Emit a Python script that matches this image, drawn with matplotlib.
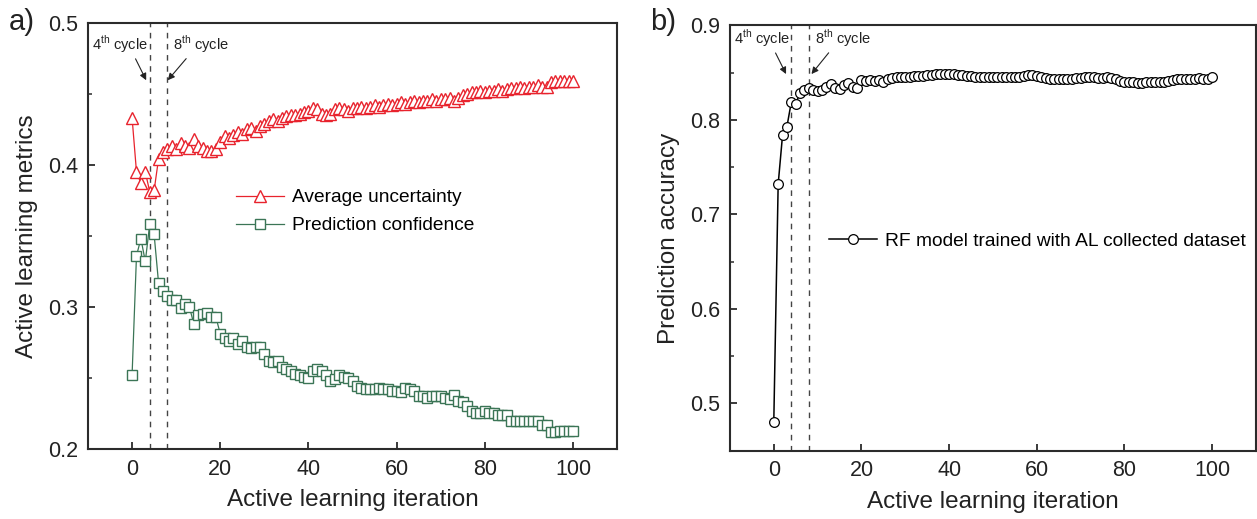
import numpy as np
import matplotlib
matplotlib.use("Agg")
import matplotlib.pyplot as plt

plt.rcParams['font.family'] = ['Liberation Sans', 'DejaVu Sans']
plt.rcParams['mathtext.fontset'] = 'custom'
plt.rcParams['mathtext.rm'] = 'Liberation Sans'

# ---- data ----
iteration = np.arange(0, 101)

avg_uncertainty = [
    0.433, 0.395, 0.387, 0.395, 0.381, 0.382, 0.404, 0.409, 0.411, 0.413,
    0.411, 0.415, 0.413, 0.412, 0.418, 0.413, 0.412, 0.410, 0.410, 0.411,
    0.416, 0.420, 0.419, 0.421, 0.423, 0.422, 0.425, 0.426, 0.424, 0.427,
    0.429, 0.431, 0.432, 0.431, 0.433, 0.434, 0.435, 0.435, 0.436, 0.437,
    0.438, 0.440, 0.439, 0.436, 0.435, 0.436, 0.439, 0.440, 0.439, 0.438,
    0.440, 0.440, 0.441, 0.440, 0.441, 0.442, 0.441, 0.442, 0.443, 0.442,
    0.443, 0.444, 0.443, 0.444, 0.445, 0.444, 0.445, 0.445, 0.446, 0.445,
    0.446, 0.446, 0.447, 0.445, 0.447, 0.449, 0.450, 0.451, 0.451, 0.452,
    0.451, 0.452, 0.452, 0.453, 0.452, 0.453, 0.454, 0.454, 0.455, 0.454,
    0.455, 0.455, 0.456, 0.455, 0.455, 0.458, 0.459, 0.459, 0.459, 0.459,
    0.459,
]

pred_confidence = [
    0.252, 0.336, 0.348, 0.332, 0.358, 0.351, 0.317, 0.311, 0.308, 0.305,
    0.305, 0.299, 0.302, 0.300, 0.288, 0.294, 0.295, 0.296, 0.293, 0.293,
    0.281, 0.278, 0.276, 0.278, 0.274, 0.276, 0.272, 0.271, 0.272, 0.272,
    0.267, 0.262, 0.261, 0.262, 0.258, 0.256, 0.255, 0.253, 0.252, 0.251,
    0.250, 0.255, 0.256, 0.255, 0.252, 0.248, 0.249, 0.252, 0.251, 0.250,
    0.248, 0.244, 0.243, 0.242, 0.242, 0.242, 0.243, 0.242, 0.242, 0.241,
    0.241, 0.240, 0.243, 0.242, 0.241, 0.237, 0.237, 0.236, 0.237, 0.237,
    0.237, 0.236, 0.235, 0.238, 0.234, 0.233, 0.230, 0.227, 0.225, 0.225,
    0.227, 0.225, 0.225, 0.224, 0.224, 0.224, 0.220, 0.220, 0.220, 0.220,
    0.220, 0.220, 0.220, 0.217, 0.217, 0.212, 0.212, 0.213, 0.213, 0.213,
    0.213,
]

accuracy = [
    0.480, 0.732, 0.784, 0.793, 0.819, 0.817, 0.829, 0.832, 0.834, 0.832,
    0.831, 0.832, 0.835, 0.838, 0.834, 0.833, 0.837, 0.839, 0.835, 0.834,
    0.842, 0.841, 0.842, 0.841, 0.842, 0.840, 0.843, 0.844, 0.845, 0.845,
    0.846, 0.846, 0.847, 0.847, 0.847, 0.848, 0.848, 0.849, 0.849, 0.849,
    0.849, 0.849, 0.848, 0.848, 0.847, 0.847, 0.846, 0.846, 0.845, 0.845,
    0.845, 0.845, 0.845, 0.845, 0.846, 0.846, 0.846, 0.847, 0.848, 0.848,
    0.847, 0.845, 0.844, 0.843, 0.843, 0.843, 0.843, 0.843, 0.843, 0.844,
    0.844, 0.845, 0.845, 0.845, 0.844, 0.844, 0.845, 0.844, 0.843, 0.841,
    0.840, 0.840, 0.840, 0.839, 0.839, 0.840, 0.840, 0.840, 0.840, 0.840,
    0.841, 0.842, 0.843, 0.843, 0.843, 0.843, 0.843, 0.844, 0.843, 0.843,
    0.845,
]

cycle_lines = [4, 8]
cycle_labels = ['4$^{\\mathrm{th}}$ cycle', '8$^{\\mathrm{th}}$ cycle']

red = '#e8232d'
green = '#3b7556'
spine_c = '#2b2b2b'


def style_axes(ax, ylim, yticks, yminor):
    ax.set_xlim(-10, 110)
    ax.set_ylim(*ylim)
    ax.set_xticks([0, 20, 40, 60, 80, 100])
    ax.set_yticks(yticks)
    ax.set_yticks(yminor, minor=True)
    ax.tick_params(axis='both', which='major', direction='in', length=5,
                   width=1.3, labelsize=15.5, color=spine_c, pad=7,
                   labelcolor='#222222')
    ax.tick_params(axis='y', which='minor', direction='in', length=3,
                   width=1.1, color=spine_c)
    for s in ax.spines.values():
        s.set_linewidth(1.5)
        s.set_color(spine_c)
    for c in cycle_lines:
        ax.axvline(c, color='#444444', lw=1.0, ls=(0, (4, 4)), zorder=1)
    ax.set_xlabel('Active learning iteration', fontsize=17.5, labelpad=7,
                  color='#222222')


def cycle_arrow(ax, label, tip, text_pos, rel):
    ax.annotate(label, xy=tip, xytext=text_pos, fontsize=10.5, va='center',
                color='#222222',
                arrowprops=dict(arrowstyle='-|>', color='#222222', lw=0.8,
                                shrinkA=1, shrinkB=0, mutation_scale=10,
                                relpos=(rel, 0)))


fig = plt.figure(figsize=(12.57, 5.19), dpi=100)

# ---- panel a ----
ax1 = fig.add_axes([0.0700, 0.1349, 0.4209, 0.8214])
ax1.plot(iteration, avg_uncertainty, color=red, lw=0.9, marker='^', ms=8.5,
         mfc='white', mec=red, mew=1.0, label='Average uncertainty', zorder=3)
ax1.plot(iteration, pred_confidence, color=green, lw=0.9, marker='s', ms=6.5,
         mfc='white', mec=green, mew=1.0, label='Prediction confidence', zorder=3)
style_axes(ax1, (0.2, 0.5), [0.2, 0.3, 0.4, 0.5], [0.25, 0.35, 0.45])
ax1.set_ylabel('Active learning metrics', fontsize=17.5, labelpad=7,
               color='#222222')
ax1.legend(loc='center left', bbox_to_anchor=(0.247, 0.557), frameon=False,
           fontsize=13.8, handlelength=2.5, numpoints=1, labelspacing=0.55,
           handletextpad=0.45)

cycle_arrow(ax1, cycle_labels[0], (3.2, 0.4595), (-9.2, 0.485), 0.75)
cycle_arrow(ax1, cycle_labels[1], (8.1, 0.4595), (9.2, 0.485), 0.3)
fig.text(0.007, 0.957, 'a)', fontsize=21, va='center', color='#222222')

# ---- panel b ----
ax2 = fig.add_axes([0.5807, 0.1316, 0.4185, 0.8193])
ax2.plot(iteration, accuracy, color='black', lw=1.1, marker='o', ms=7,
         mfc='white', mec='black', mew=0.9,
         label='RF model trained with AL collected dataset', zorder=3)
style_axes(ax2, (0.45, 0.9), [0.5, 0.6, 0.7, 0.8, 0.9],
           [0.55, 0.65, 0.75, 0.85])
ax2.set_ylabel('Prediction accuracy', fontsize=17.5, labelpad=7,
               color='#222222')
ax2.legend(loc='center left', bbox_to_anchor=(0.155, 0.493), frameon=False,
           fontsize=13.8, handlelength=2.5, numpoints=1, handletextpad=0.45)

cycle_arrow(ax2, cycle_labels[0], (2.8, 0.8486), (-9.0, 0.8866), 0.7)
cycle_arrow(ax2, cycle_labels[1], (8.6, 0.8486), (9.4, 0.8866), 0.3)
fig.text(0.517, 0.957, 'b)', fontsize=21, va='center', color='#222222')

fig.savefig('out.png', dpi=100)
